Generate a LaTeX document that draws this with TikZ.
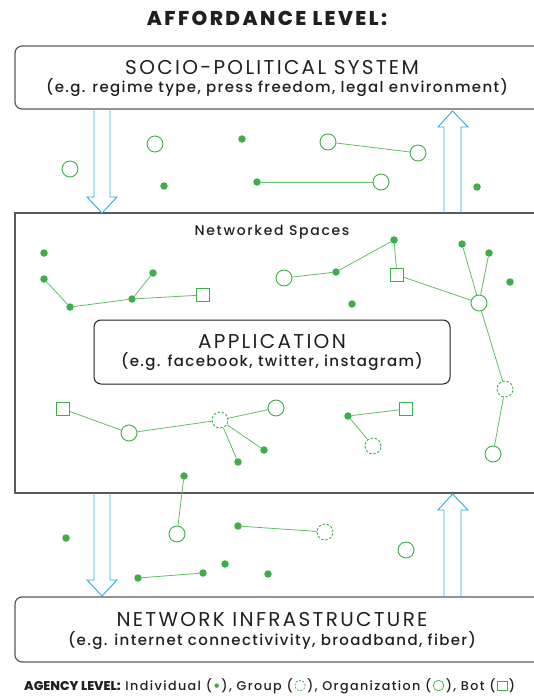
\documentclass[tikz,border=0pt]{standalone}
\usepackage{fontspec}
\setmainfont{Poppins}
\newfontfamily\medfont{Poppins Medium}
\newfontfamily\heavyfont{Poppins ExtraBold}
\usepackage{tikz}
\usetikzlibrary{calc, positioning}

\definecolor{agreen}{HTML}{3DAE49}
\definecolor{lgreen}{HTML}{62BD67}
\definecolor{ablue}{HTML}{29ABE2}
\definecolor{boxgray}{HTML}{58595B}
\definecolor{ink}{HTML}{231F20}

\newcommand{\levelfont}{\fontsize{20}{23}\selectfont\addfontfeatures{LetterSpace=11.5}}
\newcommand{\subfont}{\medfont\fontsize{15}{18}\selectfont\addfontfeatures{LetterSpace=9}}

\begin{document}
\begin{tikzpicture}[x=1pt, y=-1pt,
  indiv/.style={circle, fill=agreen, inner sep=0pt, minimum size=7.5pt},
  org/.style={circle, draw=agreen, fill=white, line width=0.9pt, inner sep=0pt, minimum size=16pt},
  grp/.style={org, dash pattern=on 2.4pt off 1.8pt},
  bot/.style={rectangle, draw=agreen, fill=white, line width=0.9pt, inner sep=0pt, minimum size=13pt},
  link/.style={draw=lgreen, line width=0.8pt},
  flow/.style={draw=ablue, line width=0.9pt},
  label/.style={text=ink, inner sep=0pt},
  legend/.style={label, anchor=base west, font=\medfont\fontsize{12.7}{14}\selectfont\addfontfeatures{LetterSpace=11}}]
\useasboundingbox (0,0) rectangle (534,696);

% levels
\node [label, font=\heavyfont\fontsize{20}{24}\selectfont\addfontfeatures{LetterSpace=12}] (title) at (267,18) {AFFORDANCE LEVEL:};
\draw [boxgray, line width=1.2pt, rounded corners=7pt] (15,46) rectangle (560,109);
\node [label, font=\levelfont] (socio) at (272,68) {SOCIO-POLITICAL SYSTEM};
\node [label, font=\subfont] (sociosub) at (277,88) {(e.g. regime type, press freedom, legal environment)};

\draw [boxgray, line width=1.5pt] (15,213) rectangle (560,493);
\node [label, font=\medfont\fontsize{14}{16}\selectfont\addfontfeatures{LetterSpace=12}] (spaces) at (272,232) {Networked Spaces};

\draw [boxgray, line width=1.2pt, rounded corners=7pt] (15,597) rectangle (560,662);
\node [label, font=\levelfont] (infra) at (272,620) {NETWORK INFRASTRUCTURE};
\node [label, font=\subfont] (infrasub) at (272,641) {(e.g. internet connectivivity, broadband, fiber)};

% arrows between levels
\draw [flow] (94,109) -- (94,197) -- (87,197) -- (102,213) -- (117,197) -- (110,197) -- (110,109);
\draw [flow] (444,213) -- (444,127) -- (438,127) -- (452.5,111) -- (468,127) -- (461,127) -- (461,213);
\draw [flow] (94,493) -- (94,580) -- (87,580) -- (102,596) -- (117,580) -- (110,580) -- (110,493);
\draw [flow] (444,597) -- (444,510) -- (438,510) -- (452.5,494) -- (468,510) -- (461,510) -- (461,597);

% application
\node [draw=ink, line width=1pt, rounded corners=7pt, minimum width=356pt, minimum height=64pt] (app) at (272,352) {};
\node [label, font=\levelfont] (apptitle) at (272,342) {APPLICATION};
\node [label, font=\subfont] (appsub) at (272,362) {(e.g. facebook, twitter, instagram)};

% agents above
\node [org] (o1) at (70,169) {};
\node [org] (o2) at (155,144) {};
\node [indiv] (i1) at (242,139) {};
\node [org] (o3) at (328,142) {};
\node [org] (o4) at (418,153) {};
\node [indiv] (i2) at (164,186) {};
\node [indiv] (i3) at (257,182) {};
\node [org] (o5) at (381,182) {};
\node [indiv] (i4) at (477,187) {};
\draw [link] (o3) -- (o4);
\draw [link] (i3) -- (o5);

% agents in networked spaces
\node [indiv] (i5) at (44,253) {};
\node [indiv] (i6) at (44,279) {};
\node [indiv] (i7) at (70,307) {};
\node [indiv] (i8) at (132,299) {};
\node [indiv] (i9) at (153,273) {};
\node [bot] (b1) at (203,295) {};
\draw [link] (i6) -- (i7) -- (i8) -- (i9);
\draw [link] (i8) -- (b1);

\node [org] (o6) at (284,278) {};
\node [indiv] (i10) at (336,272) {};
\node [indiv] (i11) at (394,240) {};
\node [bot] (b2) at (397,275) {};
\node [indiv] (i12) at (352,304) {};
\draw [link] (o6) -- (i10) -- (i11) -- (b2);

\node [indiv] (i13) at (462,244) {};
\node [indiv] (i14) at (489,253) {};
\node [indiv] (i15) at (510,282) {};
\node [org] (o7) at (479,303) {};
\node [grp] (g1) at (505,389) {};
\node [org] (o8) at (493,454) {};
\draw [link] (b2) -- (o7);
\draw [link] (i13) -- (o7);
\draw [link] (i14) -- (o7);
\draw [link] (o7) -- (g1) -- (o8);

\node [bot] (b3) at (63,409) {};
\node [org] (o9) at (129,433) {};
\node [grp] (g2) at (220,420) {};
\node [org] (o10) at (276,408) {};
\node [indiv] (i16) at (264,450) {};
\node [indiv] (i17) at (238,462) {};
\draw [link] (b3) -- (o9) -- (g2) -- (o10);
\draw [link] (g2) -- (i16);
\draw [link] (g2) -- (i17);

\node [indiv] (i18) at (348,416) {};
\node [bot] (b4) at (406,409) {};
\node [grp] (g3) at (373,446) {};
\draw [link] (i18) -- (b4);
\draw [link] (i18) -- (g3);

\node [indiv] (i19) at (184,476) {};
\node [org] (o11) at (177,534) {};
\draw [link] (i19) -- (o11);

% agents below
\node [indiv] (i20) at (66,538) {};
\node [indiv] (i21) at (238,526) {};
\node [grp] (g4) at (325,532) {};
\node [org] (o12) at (406,550) {};
\node [indiv] (i22) at (138,578) {};
\node [indiv] (i23) at (203,573) {};
\node [indiv] (i24) at (225,564) {};
\node [indiv] (i25) at (268,574) {};
\draw [link] (i21) -- (g4);
\draw [link] (i22) -- (i23);

% legend
\node [legend] (lgA) at (24,690) {{\heavyfont AGENCY LEVEL:} Individual (};
\node [indiv, minimum size=4.5pt] (lgI) at ($(lgA.base east)+(4.5,-4.4)$) {};
\node [legend] (lgB) at ($(lgA.base east)+(9,0)$) {), Group (};
\node [grp, minimum size=10.5pt, line width=0.7pt, dash pattern=on 2pt off 1.5pt] (lgG) at ($(lgB.base east)+(7,-4.4)$) {};
\node [legend] (lgC) at ($(lgB.base east)+(14,0)$) {), Organization (};
\node [org, minimum size=10.5pt, line width=0.7pt] (lgO) at ($(lgC.base east)+(7,-4.4)$) {};
\node [legend] (lgD) at ($(lgC.base east)+(14,0)$) {), Bot (};
\node [bot, minimum size=9.5pt, line width=0.7pt] (lgS) at ($(lgD.base east)+(6.5,-4.4)$) {};
\node [legend] (lgE) at ($(lgD.base east)+(13,0)$) {)};
\end{tikzpicture}
\end{document}
